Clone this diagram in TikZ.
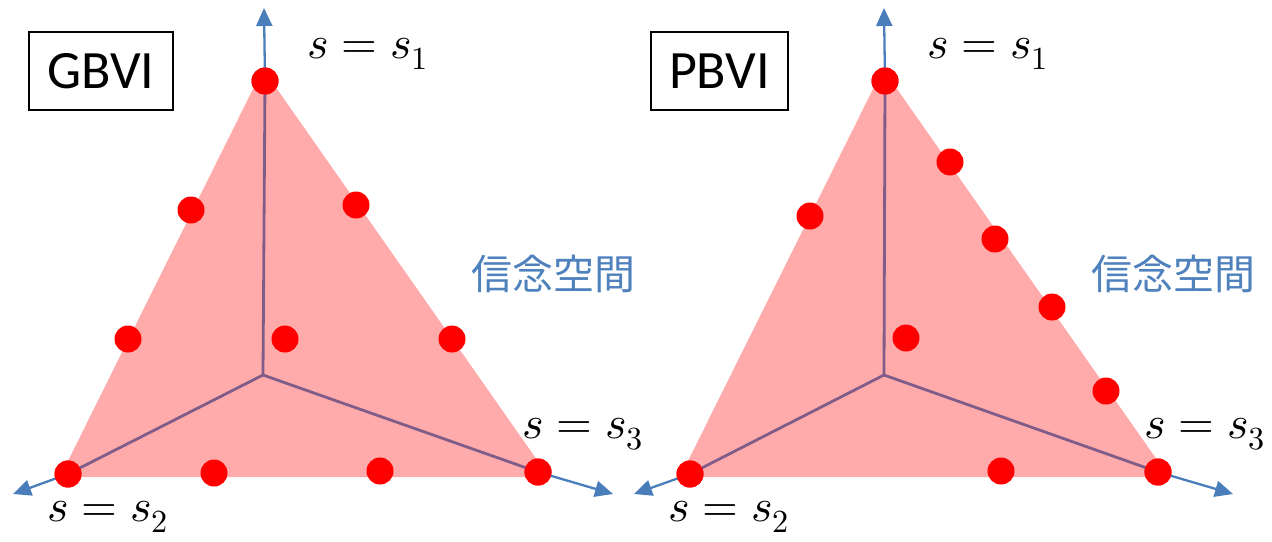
\documentclass[tikz,border=0pt]{standalone}
\usepackage{fontspec}
\usepackage{unicode-math}
\setmathfont{Latin Modern Math}
\newfontfamily\latfont{Carlito}
\newfontfamily\cjkfont{Noto Sans CJK JP}
\usetikzlibrary{arrows.meta}
\definecolor{axisblue}{RGB}{74,126,187}
\definecolor{textblue}{RGB}{79,129,189}
\definecolor{simplexfill}{RGB}{255,171,171}
\definecolor{innerline}{RGB}{128,92,136}
\begin{document}
\begin{tikzpicture}[x=1pt,y=-1pt,
  dot/.style={circle,fill=red,draw=none,minimum size=27pt,inner sep=0pt},
  axisarrow/.style={draw=axisblue,line width=2.3pt,-{Triangle[length=18pt,width=16pt]}},
  innerl/.style={draw=innerline,line width=2.8pt},
  mlabel/.style={anchor=base west,inner sep=0pt,font=\fontsize{46}{50}\selectfont},
  titlebox/.style={draw=black,line width=1.5pt,minimum height=78pt,inner sep=0pt,font=\latfont\fontsize{54}{60}\selectfont},
  spacelabel/.style={text=textblue,inner sep=0pt,font=\cjkfont\fontsize{41}{45}\selectfont}]
\useasboundingbox (0,0) rectangle (1272,541);
% ---------- left (GBVI) ----------
\fill[simplexfill] (263,69) -- (60,477) -- (549,477) -- cycle;
\coordinate (cL) at (263,375);
\coordinate (tL1) at (264,8);
\coordinate (tL2) at (13,494);
\coordinate (tL3) at (613,494);
\node[dot] (L1) at (265,81) {};
\node[dot] (L7) at (68,474) {};
\node[dot] (L10) at (538,472) {};
\draw[innerl] (cL) -- (L1.center);
\draw[innerl] (cL) -- (L7.center);
\draw[innerl] (cL) -- (L10.center);
\draw[axisarrow] (L1.center) -- (tL1);
\draw[axisarrow] (L7.center) -- (tL2);
\draw[axisarrow] (L10.center) -- (tL3);
\node[dot] at (L1) {};
\node[dot] at (L7) {};
\node[dot] at (L10) {};
\node[dot] (L2) at (191,210) {};
\node[dot] (L3) at (356,205) {};
\node[dot] (L4) at (128,339) {};
\node[dot] (L5) at (285,339) {};
\node[dot] (L6) at (452,339) {};
\node[dot] (L8) at (214,473) {};
\node[dot] (L9) at (380,471) {};
\node[mlabel] (sL1) at (307,58) {$s=s_1$};
\node[mlabel] (sL2) at (47,521) {$s=s_2$};
\node[mlabel] (sL3) at (522,438) {$s=s_3$};
\node[titlebox,minimum width=144pt] (gbvi) at (101,71) {GBVI};
\node[spacelabel] (bsL) at (553,274) {信念空間};
% ---------- right (PBVI) ----------
\fill[simplexfill] (883,69) -- (680,477) -- (1169,477) -- cycle;
\coordinate (cR) at (884,375);
\coordinate (tR1) at (884,8);
\coordinate (tR2) at (634,494);
\coordinate (tR3) at (1233,494);
\node[dot] (R1) at (885,81) {};
\node[dot] (R8) at (690,474) {};
\node[dot] (R10) at (1158,472) {};
\draw[innerl] (cR) -- (R1.center);
\draw[innerl] (cR) -- (R8.center);
\draw[innerl] (cR) -- (R10.center);
\draw[axisarrow] (R1.center) -- (tR1);
\draw[axisarrow] (R8.center) -- (tR2);
\draw[axisarrow] (R10.center) -- (tR3);
\node[dot] at (R1) {};
\node[dot] at (R8) {};
\node[dot] at (R10) {};
\node[dot] (R2) at (950,162) {};
\node[dot] (R3) at (810,216) {};
\node[dot] (R4) at (995,239) {};
\node[dot] (R5) at (1052,307) {};
\node[dot] (R6) at (906,338) {};
\node[dot] (R7) at (1106,391) {};
\node[dot] (R9) at (1001,471) {};
\node[mlabel] (sR1) at (927,58) {$s=s_1$};
\node[mlabel] (sR2) at (668,521) {$s=s_2$};
\node[mlabel] (sR3) at (1144,438) {$s=s_3$};
\node[titlebox,minimum width=137pt] (pbvi) at (719.5,71) {PBVI};
\node[spacelabel] (bsR) at (1173,274) {信念空間};
\end{tikzpicture}
\end{document}
